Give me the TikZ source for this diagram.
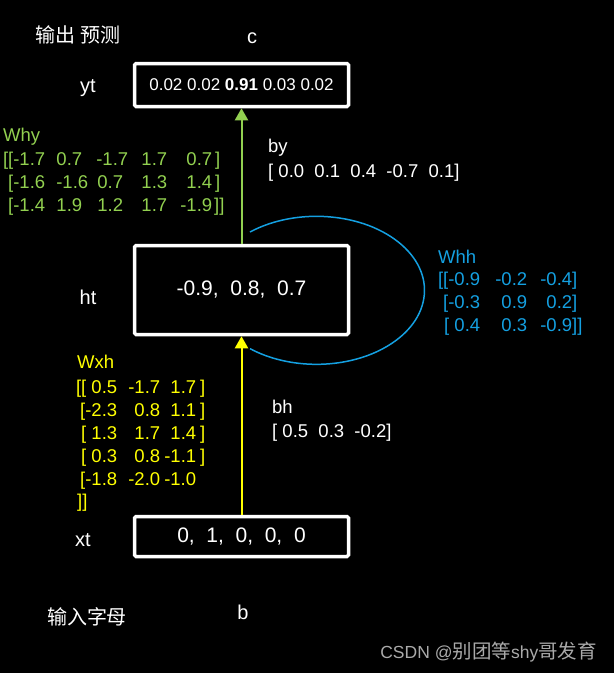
\documentclass[tikz,border=0pt]{standalone}
\usepackage{fontspec}
\setmainfont{Liberation Sans}
\newfontfamily\cjk{Noto Sans CJK SC}
\usetikzlibrary{arrows.meta}
\definecolor{whygreen}{RGB}{146,208,80}
\definecolor{whhblue}{RGB}{20,160,225}
\definecolor{wxhyellow}{RGB}{255,255,0}
\definecolor{wmgray}{RGB}{170,170,170}
\newcommand\cellr[2]{\makebox[#1pt][r]{#2}}
\begin{document}
\begin{tikzpicture}[x=1pt,y=-1pt,
  vecbox/.style={draw=white, line width=3.5pt, rounded corners=1.5pt, fill=black, text=white, minimum width=214pt, inner sep=0pt},
  lbl/.style={text=white, inner sep=0pt, font=\fontsize{20}{24}\selectfont},
  mat/.style={anchor=base west, inner sep=0pt, font=\fontsize{18.5}{22}\selectfont},
  cjklabel/.style={text=white, inner sep=0pt, font=\cjk\fontsize{20}{24}\selectfont},
  flow/.style={line width=2pt, -{Triangle[width=13pt,length=12pt]}},
]
\fill[black] (0,0) rectangle (614,673);
\useasboundingbox (0,0) rectangle (614,673);

% boxes
\node[vecbox, minimum height=43pt, font=\fontsize{17}{20}\selectfont] (yt) at (241.5,85) {0.02 0.02 \textbf{0.91} 0.03 0.02};
\node[vecbox, minimum height=89pt, font=\fontsize{21}{25}\selectfont] (ht) at (241.5,290) {-0.9,\ \ 0.8,\ \ 0.7};
\node[vecbox, minimum height=40pt, font=\fontsize{21}{25}\selectfont] (xt) at (241.5,536.5) {0,\ \ 1,\ \ 0,\ \ 0,\ \ 0};

% connectors
\draw[flow, color=whygreen] (ht.north) -- (yt.south);
\draw[flow, color=wxhyellow] (xt.north) -- (ht.south);
\coordinate (loopstart) at (250,232);
\draw[whhblue, line width=1.5pt] (loopstart) arc[start angle=128, end angle=-128, x radius=108pt, y radius=74pt];

% side labels
\node[cjklabel] (outlbl) at (78,35) {输出 预测};
\node[lbl] (clbl) at (252,38) {c};
\node[lbl] (ytlbl) at (88,88) {yt};
\node[lbl] (htlbl) at (88,297) {ht};
\node[lbl] (xtlbl) at (83,540) {xt};
\node[cjklabel] (inlbl) at (87,617) {输入字母};
\node[lbl] (blbl) at (243,612) {b};

% Why
\begin{scope}[every node/.style={mat, text=whygreen}]
\node (why0) at (3,141) {Why};
\node (why1) at (3,165) {\cellr{42}{[[-1.7}\cellr{37}{0.7}\cellr{46}{-1.7}\cellr{39}{1.7}\cellr{45}{0.7}\hspace{3pt}]};
\node (why2) at (3,188) {\cellr{42}{[-1.6}\cellr{43}{-1.6}\cellr{35}{0.7}\cellr{44}{1.3}\cellr{45}{1.4}\hspace{3pt}]};
\node (why3) at (3,211) {\cellr{42}{[-1.4}\cellr{37}{1.9}\cellr{41}{1.2}\cellr{44}{1.7}\cellr{45}{-1.9}\hspace{2pt}]]};
\end{scope}

% by, bh
\begin{scope}[every node/.style={mat, text=white}]
\node (by0) at (268,152) {by};
\node (by1) at (268,177) {[ 0.0\ \ 0.1\ \ 0.4\ \ -0.7\ \ 0.1]};
\node (bh0) at (272,413) {bh};
\node (bh1) at (272,437) {[ 0.5\ \ 0.3\ \ -0.2]};
\end{scope}

% Whh
\begin{scope}[every node/.style={mat, text=whhblue}]
\node (whh0) at (438,263) {Whh};
\node (whh1) at (438,285) {\cellr{42}{[[-0.9}\cellr{47}{-0.2}\cellr{45}{-0.4}]};
\node (whh2) at (438,308) {\cellr{42}{[-0.3}\cellr{47}{0.9}\cellr{45}{0.2}]};
\node (whh3) at (438,331) {\cellr{42}{[ 0.4}\cellr{47}{0.3}\cellr{45}{-0.9}]]};
\end{scope}

% Wxh
\begin{scope}[every node/.style={mat, text=wxhyellow}]
\node (wxh0) at (77,368) {Wxh};
\node (wxh1) at (77,393) {\cellr{40}{[[ 0.5}\cellr{43}{-1.7}\cellr{36}{1.7}\hspace{4pt}]};
\node (wxh2) at (77,416) {\cellr{40}{[-2.3}\cellr{43}{0.8}\cellr{36}{1.1}\hspace{4pt}]};
\node (wxh3) at (77,439) {\cellr{40}{[ 1.3}\cellr{43}{1.7}\cellr{36}{1.4}\hspace{4pt}]};
\node (wxh4) at (77,462) {\cellr{40}{[ 0.3}\cellr{43}{0.8}\cellr{36}{-1.1}\hspace{4pt}]};
\node (wxh5) at (77,485) {\cellr{40}{[-1.8}\cellr{43}{-2.0}\cellr{36}{-1.0}};
\node (wxh6) at (77,507) {]]};
\end{scope}

% watermark
\node[anchor=east, text=wmgray, inner sep=0pt] (wm) at (597,652) {\fontsize{17.5}{20}\selectfont CSDN @{\cjk\fontsize{19.5}{22}\selectfont 别团等}shy{\cjk\fontsize{19.5}{22}\selectfont 哥发育}};
\end{tikzpicture}
\end{document}
